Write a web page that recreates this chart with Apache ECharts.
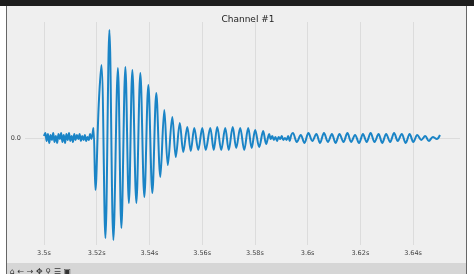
<!DOCTYPE html>
<html><head><meta charset="utf-8">
<script src="https://cdn.jsdelivr.net/npm/echarts@6/dist/echarts.min.js"></script>
<style>html,body{margin:0;padding:0;background:#fff}#c{width:474px;height:274px}</style>
</head><body><div id="c"></div>
<script>
// time (s) of noise samples before the event
const noiseTimes = [3.5000,3.5005,3.5010,3.5015,3.5020,3.5025,3.5030,3.5035,3.5040,3.5045,3.5050,3.5055,3.5060,3.5065,3.5070,3.5075,3.5080,3.5085,3.5090,3.5095,3.5100,3.5105,3.5110,3.5115,3.5120,3.5125,3.5130,3.5135,3.5140,3.5145,3.5150,3.5155,3.5160,3.5165,3.5170,3.5175,3.5180];
const noiseValues = [0.02,0.05,-0.03,0.04,-0.05,0.03,-0.02,0.05,-0.04,0.02,-0.05,0.04,-0.01,0.05,-0.04,0.03,-0.05,0.04,-0.02,0.05,-0.03,0.02,-0.04,0.04,-0.02,0.03,-0.01,0.04,-0.03,0.02,-0.02,0.03,-0.03,0.01,-0.02,0.04,-0.01];
// event: peaks and troughs of the main oscillation
const eventTimes = [3.51875,3.51951,3.52076,3.52178,3.52330,3.52481,3.52633,3.52803,3.52936,3.53087,3.53220,3.53352,3.53504,3.53655,3.53807,3.53958,3.54110,3.54261,3.54413,3.54564,3.54697,3.54867,3.55000,3.55152,3.55284,3.55436,3.55568,3.55701,3.55852,3.56004,3.56136,3.56307,3.56439,3.56572,3.56723,3.56875,3.57008,3.57159,3.57292,3.57443,3.57595,3.57746,3.57879,3.58011,3.58163,3.58314,3.58428,3.58542];
const eventValues = [0.10,-0.52,0.33,0.73,-1.00,1.08,-1.02,0.70,-0.90,0.71,-0.65,0.68,-0.65,0.65,-0.59,0.53,-0.55,0.45,-0.39,0.28,-0.27,0.21,-0.19,0.15,-0.14,0.11,-0.13,0.10,-0.12,0.10,-0.12,0.10,-0.12,0.11,-0.12,0.10,-0.12,0.11,-0.10,0.10,-0.12,0.10,-0.10,0.08,-0.09,0.07,-0.06,0.04];
// quiet stretch after the decay
const quietTimes = [3.5860,3.5866,3.5872,3.5878,3.5884,3.5890,3.5896,3.5902,3.5908,3.5914,3.5920,3.5926,3.5932,3.5938];
const quietValues = [-0.01,0.02,-0.02,0.01,-0.03,0.01,-0.01,0.02,-0.02,0.00,-0.02,0.02,-0.03,0.03];
// late residual ringing
const tailTimes = [3.5944,3.5959,3.5974,3.5988,3.6003,3.6018,3.6033,3.6047,3.6062,3.6077,3.6092,3.6106,3.6121,3.6136,3.6151,3.6165,3.6180,3.6195,3.6210,3.6224,3.6239,3.6254,3.6269,3.6283,3.6298,3.6313,3.6328,3.6342,3.6357,3.6372,3.6387,3.6401,3.6416,3.6431,3.6446,3.6460,3.6475,3.6490,3.6502];
const tailValues = [0.05,-0.04,0.03,-0.05,0.05,-0.03,0.04,-0.05,0.05,-0.04,0.04,-0.05,0.04,-0.04,0.05,-0.04,0.03,-0.05,0.04,-0.04,0.05,-0.04,0.04,-0.05,0.04,-0.04,0.05,-0.03,0.04,-0.05,0.04,-0.04,0.03,-0.02,0.02,-0.03,0.01,-0.01,0.03];
const xTicks = [3.5,3.52,3.54,3.56,3.58,3.6,3.62,3.64];
const yTicks = [0];
const titleText = 'Channel #1';

const times = noiseTimes.concat(eventTimes, quietTimes, tailTimes);
const values = noiseValues.concat(eventValues, quietValues, tailValues);
const data = times.map((t, i) => [t, values[i]]);

const chart = echarts.init(document.getElementById('c'), null, {renderer: 'canvas'});
chart.setOption({
  backgroundColor: '#efefef',
  animation: false,
  title: {text: titleText, left: 243, top: 10, textAlign: 'center',
    textStyle: {fontSize: 9, fontWeight: 'normal', color: '#222', fontFamily: 'DejaVu Sans'}},
  grid: {left: 25, right: 14, top: 22, bottom: 29},
  xAxis: {type: 'value', min: 3.4928, max: 3.6578,
    axisLine: {show: false}, axisTick: {show: false, customValues: xTicks},
    axisLabel: {customValues: xTicks, fontSize: 6.5, color: '#444', margin: 5, fontFamily: 'DejaVu Sans',
      formatter: v => (+v.toFixed(2)) + 's'},
    splitLine: {show: true, lineStyle: {color: '#dcdcdc', width: 1}}},
  yAxis: {type: 'value', min: -1.07, max: 1.16,
    axisLine: {show: false}, axisTick: {show: false, customValues: yTicks},
    axisLabel: {customValues: yTicks, fontSize: 6.5, color: '#444', margin: 4, fontFamily: 'DejaVu Sans',
      formatter: v => v.toFixed(1)},
    splitLine: {show: true, lineStyle: {color: '#dcdcdc', width: 1}}},
  series: [{type: 'line', data: data, showSymbol: false, smooth: 0.35,
    lineStyle: {color: '#1a84c6', width: 2}, itemStyle: {color: '#1a84c6'}}],
  graphic: [
    {type: 'rect', shape: {x: 0, y: 0, width: 7, height: 274}, style: {fill: '#ffffff'}, z: 100},
    {type: 'rect', shape: {x: 466, y: 0, width: 8, height: 274}, style: {fill: '#ffffff'}, z: 100},
    {type: 'rect', shape: {x: 0, y: 0, width: 474, height: 6}, style: {fill: '#1e1e1e'}, z: 101},
    {type: 'rect', shape: {x: 7, y: 263, width: 459, height: 11}, style: {fill: '#d6d6d6'}, z: 100},
    {type: 'rect', shape: {x: 6, y: 6, width: 1, height: 268}, style: {fill: '#666'}, z: 102},
    {type: 'rect', shape: {x: 466, y: 6, width: 1, height: 268}, style: {fill: '#666'}, z: 102},
    {type: 'text', x: 10, y: 268, style: {text: '⌂ ← → ✥ ⚲ ☰ ▣', fontSize: 8, fill: '#333', fontFamily: 'DejaVu Sans'}, z: 103}
  ]
});
</script></body></html>
